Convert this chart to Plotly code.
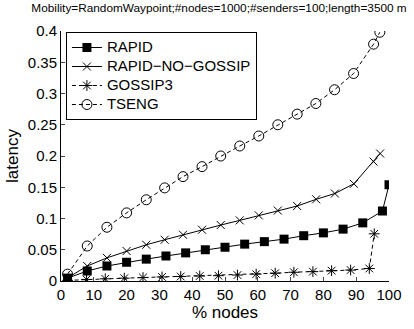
import plotly.graph_objects as go

rapid_x = [2, 8, 14, 20, 26, 32, 38, 44, 50, 56, 62, 68, 74, 80, 86, 92, 98, 100]
rapid_y = [0.0046, 0.016, 0.024, 0.030, 0.035, 0.040, 0.045, 0.050, 0.054, 0.059,
           0.063, 0.067, 0.0725, 0.077, 0.083, 0.093, 0.112, 0.154]

nog_x = [2, 8, 14, 20, 26, 31.6, 37.2, 43, 48.7, 54.5, 60.3, 66.1, 72, 77.8, 83.5, 89.3, 95.3, 97.3]
nog_y = [0.005, 0.024, 0.037, 0.048, 0.058, 0.066, 0.074, 0.082, 0.0895, 0.097,
         0.105, 0.1127, 0.120, 0.1307, 0.140, 0.1555, 0.191, 0.204]

gos_x = [2, 7.8, 13.5, 19.3, 25, 30.8, 36.5, 42.3, 48, 53.8, 59.5, 65.3, 71, 76.8, 82.5, 88.3, 94, 95.5]
gos_y = [0.001, 0.0025, 0.0035, 0.0045, 0.0055, 0.0065, 0.0072, 0.008, 0.0085, 0.0095,
         0.011, 0.0125, 0.014, 0.015, 0.0165, 0.0175, 0.020, 0.0755]

tseng_x = [2, 8, 14, 20, 26, 31.6, 37.2, 43, 48.7, 54.5, 60.3, 66.1, 72, 77.7, 83.4, 89.2, 95.3, 97.2]
tseng_y = [0.011, 0.056, 0.086, 0.109, 0.130, 0.149, 0.167, 0.183, 0.200, 0.216,
           0.232, 0.250, 0.267, 0.284, 0.306, 0.332, 0.379, 0.398]

series_names = ["RAPID", "RAPID\u2212NO\u2212GOSSIP", "GOSSIP3", "TSENG"]

x_ticks = [0, 10, 20, 30, 40, 50, 60, 70, 80, 90, 100]
y_ticks = [0, 0.05, 0.1, 0.15, 0.2, 0.25, 0.3, 0.35, 0.4]
y_tick_text = ["0", "0.05", "0.1", "0.15", "0.2", "0.25", "0.3", "0.35", "0.4"]

FONT = "Liberation Sans, Arial, Helvetica, sans-serif"
DASH = "4px,3px"


def legend_label(name):
    # larger visible text while the legend rows keep a compact spacing
    return '<span style="font-size:15px">' + name + "</span>"


fig = go.Figure()
fig.add_trace(go.Scatter(
    x=rapid_x, y=rapid_y, name=legend_label(series_names[0]), mode="lines+markers",
    line=dict(color="black", width=1),
    marker=dict(symbol="square", size=9, color="black"),
))
fig.add_trace(go.Scatter(
    x=nog_x, y=nog_y, name=legend_label(series_names[1]), mode="lines+markers",
    line=dict(color="black", width=1),
    marker=dict(symbol="x-thin-open", size=8, color="black", line=dict(width=1, color="black")),
))
fig.add_trace(go.Scatter(
    x=gos_x, y=gos_y, name=legend_label(series_names[2]), mode="lines+markers",
    line=dict(color="black", width=1, dash=DASH),
    marker=dict(symbol="asterisk-open", size=9, color="black", line=dict(width=1, color="black")),
))
fig.add_trace(go.Scatter(
    x=tseng_x, y=tseng_y, name=legend_label(series_names[3]), mode="lines+markers",
    line=dict(color="black", width=1, dash=DASH),
    marker=dict(symbol="circle-open", size=10, color="black", line=dict(width=1, color="black")),
))

fig.update_layout(
    width=414, height=329,
    margin=dict(l=57, r=24, t=31, b=39),
    paper_bgcolor="white", plot_bgcolor="white",
    font=dict(family=FONT, color="black", size=15),
    title=dict(text="Mobility=RandomWaypoint;#nodes=1000;#senders=100;length=3500 m",
               font=dict(size=11.8, family=FONT, color="black"),
               x=0.529, xanchor="center", y=0.99, yanchor="top"),
    showlegend=True,
    legend=dict(x=0.015, y=0.996, xanchor="left", yanchor="top",
                bordercolor="black", borderwidth=1, bgcolor="white",
                font=dict(size=11, family=FONT, color="black"), itemwidth=30,
                tracegroupgap=0),
    xaxis=dict(range=[0, 100], tickvals=x_ticks, ticks="inside", ticklen=4,
               showgrid=False, zeroline=False, showline=True, linecolor="black",
               linewidth=1, tickfont=dict(size=15), mirror=False,
               title=dict(text="% nodes", font=dict(size=17), standoff=2)),
    yaxis=dict(range=[0, 0.4], tickvals=y_ticks, ticktext=y_tick_text, ticks="inside",
               ticklen=4, showgrid=False, zeroline=False, showline=True,
               linecolor="black", linewidth=1, tickfont=dict(size=15),
               title=dict(text="latency", font=dict(size=17), standoff=4)),
)

fig.write_html("out.html")
